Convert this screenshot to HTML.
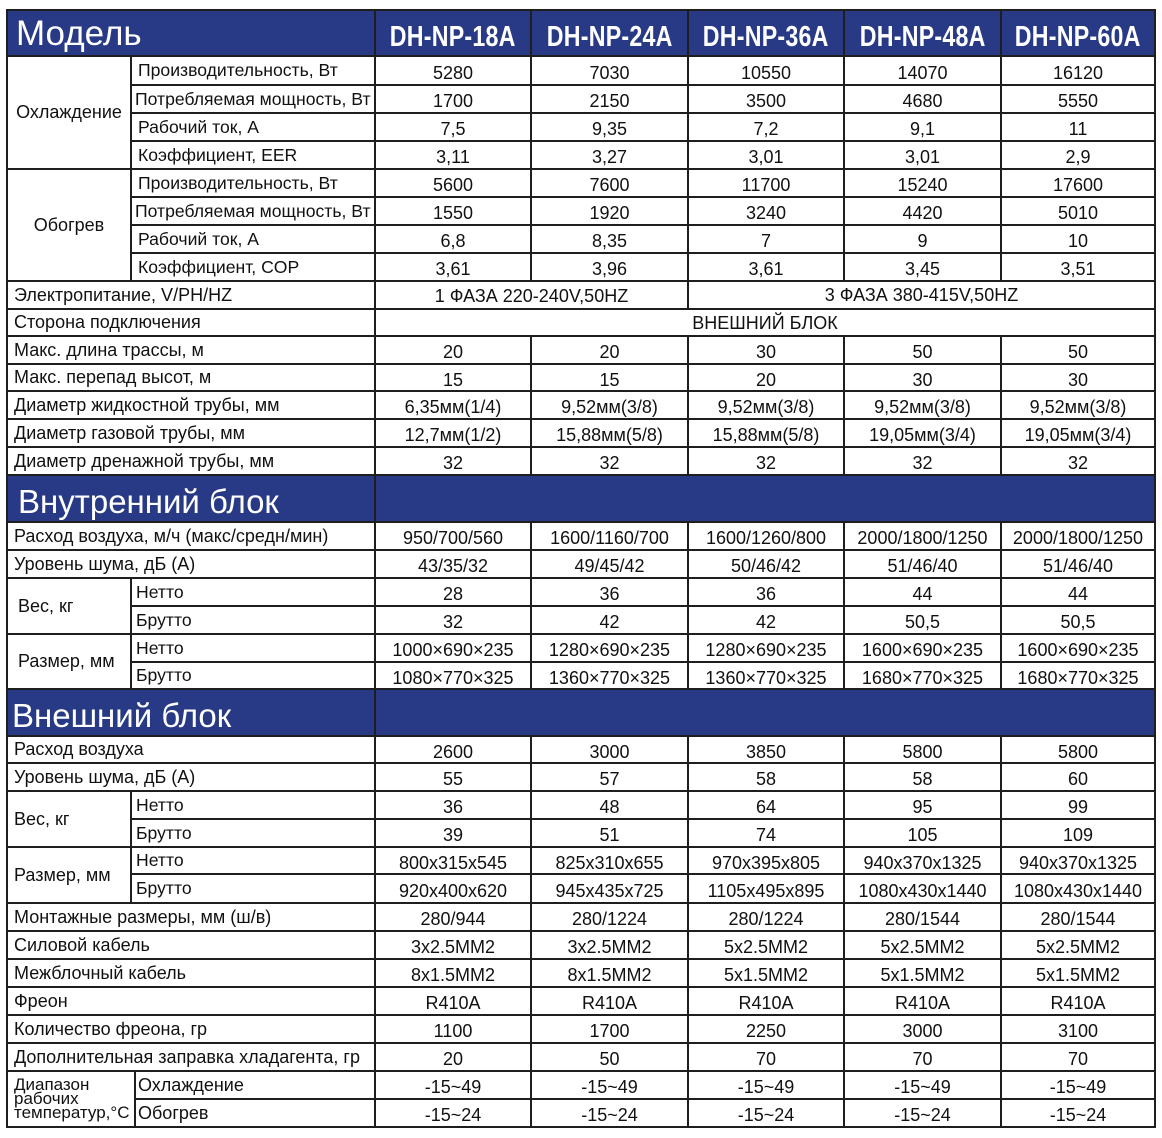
<!DOCTYPE html>
<html><head><meta charset="utf-8">
<style>
*{box-sizing:border-box;margin:0;padding:0}
body{width:1162px;height:1138px;background:#fff;position:relative;overflow:hidden;font-family:"Liberation Sans",sans-serif;color:#111}
#t{position:absolute;left:6px;top:9px;width:1150px;border:2px solid #1e1e1e}
.row{display:flex;width:1146px}
.row+.row{border-top:2px solid #1e1e1e}
.c{height:100%;display:flex;align-items:center;font-size:18px;white-space:nowrap;overflow:hidden}
.c+.c{border-left:2px solid #1e1e1e}
.a{width:122px}.b{width:244px}.ab{width:366px}.b2{width:242px;font-size:17.6px}
.v1{width:156px}.v2{width:157px}.v3{width:156px}.v4{width:157px}.v5{width:154px}
.s12{width:313px}.s345{width:467px}.sall{width:780px}
.v,.v1,.v2,.v3,.v4,.v5,.s12,.s345,.sall{justify-content:center;padding-top:5px}
.l{padding-left:6px}
.ctr{justify-content:center}
.sub{width:1024px;border-left:2px solid #1e1e1e;display:flex;flex-direction:column}
.sub .row{width:1022px}
.g{display:flex}
.blue{background:#283a85;color:#fff}
.mh{padding-top:9px}
.mh span{display:inline-block;font-size:29px;font-weight:bold;transform:scaleX(0.8);letter-spacing:0.3px}
.big{font-size:33px;padding-left:8px}
</style></head><body>
<div id="t">
<div class="row blue" style="height:44px">
 <div class="c ab big" style="font-size:35px;padding-left:8px;padding-top:2px">Модель</div>
 <div class="c v1 mh"><span>DH-NP-18A</span></div><div class="c v2 mh"><span>DH-NP-24A</span></div><div class="c v3 mh"><span>DH-NP-36A</span></div><div class="c v4 mh"><span>DH-NP-48A</span></div><div class="c v5 mh"><span>DH-NP-60A</span></div>
</div>
<div class="row g" style="height:113px">
 <div class="c a ctr">Охлаждение</div>
 <div class="sub">
  <div class="row" style="height:27px"><div class="c b2 l">Производительность, Вт</div><div class="c v1">5280</div><div class="c v2">7030</div><div class="c v3">10550</div><div class="c v4">14070</div><div class="c v5">16120</div></div>
  <div class="row" style="height:28px"><div class="c b2 l" style="padding-left:3px">Потребляемая мощность, Вт</div><div class="c v1">1700</div><div class="c v2">2150</div><div class="c v3">3500</div><div class="c v4">4680</div><div class="c v5">5550</div></div>
  <div class="row" style="height:28px"><div class="c b2 l">Рабочий ток, А</div><div class="c v1">7,5</div><div class="c v2">9,35</div><div class="c v3">7,2</div><div class="c v4">9,1</div><div class="c v5">11</div></div>
  <div class="row" style="height:28px"><div class="c b2 l">Коэффициент, EER</div><div class="c v1">3,11</div><div class="c v2">3,27</div><div class="c v3">3,01</div><div class="c v4">3,01</div><div class="c v5">2,9</div></div>
 </div>
</div>
<div class="row g" style="height:112px">
 <div class="c a ctr">Обогрев</div>
 <div class="sub">
  <div class="row" style="height:26px"><div class="c b2 l">Производительность, Вт</div><div class="c v1">5600</div><div class="c v2">7600</div><div class="c v3">11700</div><div class="c v4">15240</div><div class="c v5">17600</div></div>
  <div class="row" style="height:28px"><div class="c b2 l" style="padding-left:3px">Потребляемая мощность, Вт</div><div class="c v1">1550</div><div class="c v2">1920</div><div class="c v3">3240</div><div class="c v4">4420</div><div class="c v5">5010</div></div>
  <div class="row" style="height:28px"><div class="c b2 l">Рабочий ток, А</div><div class="c v1">6,8</div><div class="c v2">8,35</div><div class="c v3">7</div><div class="c v4">9</div><div class="c v5">10</div></div>
  <div class="row" style="height:28px"><div class="c b2 l">Коэффициент, COP</div><div class="c v1">3,61</div><div class="c v2">3,96</div><div class="c v3">3,61</div><div class="c v4">3,45</div><div class="c v5">3,51</div></div>
 </div>
</div>
<div class="row" style="height:28px"><div class="c ab l">Электропитание, V/PH/HZ</div><div class="c s12" style="padding-top:2px">1 ФАЗА 220-240V,50HZ</div><div class="c s345" style="padding-top:0">3 ФАЗА 380-415V,50HZ</div></div>
<div class="row" style="height:27px"><div class="c ab l">Сторона подключения</div><div class="c sall" style="padding-top:2px">ВНЕШНИЙ БЛОК</div></div>
<div class="row" style="height:28px"><div class="c ab l">Макс. длина трассы, м</div><div class="c v1">20</div><div class="c v2">20</div><div class="c v3">30</div><div class="c v4">50</div><div class="c v5">50</div></div>
<div class="row" style="height:27px"><div class="c ab l">Макс. перепад высот, м</div><div class="c v1">15</div><div class="c v2">15</div><div class="c v3">20</div><div class="c v4">30</div><div class="c v5">30</div></div>
<div class="row" style="height:28px"><div class="c ab l">Диаметр жидкостной трубы, мм</div><div class="c v1">6,35мм(1/4)</div><div class="c v2">9,52мм(3/8)</div><div class="c v3">9,52мм(3/8)</div><div class="c v4">9,52мм(3/8)</div><div class="c v5">9,52мм(3/8)</div></div>
<div class="row" style="height:28px"><div class="c ab l">Диаметр газовой трубы, мм</div><div class="c v1">12,7мм(1/2)</div><div class="c v2">15,88мм(5/8)</div><div class="c v3">15,88мм(5/8)</div><div class="c v4">19,05мм(3/4)</div><div class="c v5">19,05мм(3/4)</div></div>
<div class="row" style="height:28px"><div class="c ab l">Диаметр дренажной трубы, мм</div><div class="c v1">32</div><div class="c v2">32</div><div class="c v3">32</div><div class="c v4">32</div><div class="c v5">32</div></div>
<div class="row blue" style="height:47px"><div class="c ab big" style="padding-left:10px;padding-top:6px">Внутренний блок</div><div class="c sall"></div></div>
<div class="row" style="height:28px"><div class="c ab l">Расход воздуха, м/ч (макс/средн/мин)</div><div class="c v1">950/700/560</div><div class="c v2">1600/1160/700</div><div class="c v3">1600/1260/800</div><div class="c v4">2000/1800/1250</div><div class="c v5">2000/1800/1250</div></div>
<div class="row" style="height:28px"><div class="c ab l">Уровень шума, дБ (А)</div><div class="c v1">43/35/32</div><div class="c v2">49/45/42</div><div class="c v3">50/46/42</div><div class="c v4">51/46/40</div><div class="c v5">51/46/40</div></div>
<div class="row g" style="height:56px">
 <div class="c a l" style="padding-left:10px">Вес, кг</div>
 <div class="sub">
  <div class="row" style="height:26px"><div class="c b2 l" style="padding-left:4px">Нетто</div><div class="c v1">28</div><div class="c v2">36</div><div class="c v3">36</div><div class="c v4">44</div><div class="c v5">44</div></div>
  <div class="row" style="height:28px"><div class="c b2 l" style="padding-left:4px">Брутто</div><div class="c v1">32</div><div class="c v2">42</div><div class="c v3">42</div><div class="c v4">50,5</div><div class="c v5">50,5</div></div>
 </div>
</div>
<div class="row g" style="height:55px">
 <div class="c a l" style="padding-left:10px">Размер, мм</div>
 <div class="sub">
  <div class="row" style="height:26px"><div class="c b2 l" style="padding-left:4px">Нетто</div><div class="c v1">1000×690×235</div><div class="c v2">1280×690×235</div><div class="c v3">1280×690×235</div><div class="c v4">1600×690×235</div><div class="c v5">1600×690×235</div></div>
  <div class="row" style="height:27px"><div class="c b2 l" style="padding-left:4px">Брутто</div><div class="c v1">1080×770×325</div><div class="c v2">1360×770×325</div><div class="c v3">1360×770×325</div><div class="c v4">1680×770×325</div><div class="c v5">1680×770×325</div></div>
 </div>
</div>
<div class="row blue" style="height:47px"><div class="c ab big" style="padding-left:4px;padding-top:6px">Внешний блок</div><div class="c sall"></div></div>
<div class="row" style="height:27px"><div class="c ab l">Расход воздуха</div><div class="c v1">2600</div><div class="c v2">3000</div><div class="c v3">3850</div><div class="c v4">5800</div><div class="c v5">5800</div></div>
<div class="row" style="height:28px"><div class="c ab l">Уровень шума, дБ (А)</div><div class="c v1">55</div><div class="c v2">57</div><div class="c v3">58</div><div class="c v4">58</div><div class="c v5">60</div></div>
<div class="row g" style="height:56px">
 <div class="c a l">Вес, кг</div>
 <div class="sub">
  <div class="row" style="height:26px"><div class="c b2 l" style="padding-left:4px">Нетто</div><div class="c v1">36</div><div class="c v2">48</div><div class="c v3">64</div><div class="c v4">95</div><div class="c v5">99</div></div>
  <div class="row" style="height:28px"><div class="c b2 l" style="padding-left:4px">Брутто</div><div class="c v1">39</div><div class="c v2">51</div><div class="c v3">74</div><div class="c v4">105</div><div class="c v5">109</div></div>
 </div>
</div>
<div class="row g" style="height:56px">
 <div class="c a l">Размер, мм</div>
 <div class="sub">
  <div class="row" style="height:25px"><div class="c b2 l" style="padding-left:4px">Нетто</div><div class="c v1">800x315x545</div><div class="c v2">825x310x655</div><div class="c v3">970x395x805</div><div class="c v4">940x370x1325</div><div class="c v5">940x370x1325</div></div>
  <div class="row" style="height:29px"><div class="c b2 l" style="padding-left:4px">Брутто</div><div class="c v1">920x400x620</div><div class="c v2">945x435x725</div><div class="c v3">1105x495x895</div><div class="c v4">1080x430x1440</div><div class="c v5">1080x430x1440</div></div>
 </div>
</div>
<div class="row" style="height:28px"><div class="c ab l">Монтажные размеры, мм (ш/в)</div><div class="c v1">280/944</div><div class="c v2">280/1224</div><div class="c v3">280/1224</div><div class="c v4">280/1544</div><div class="c v5">280/1544</div></div>
<div class="row" style="height:28px"><div class="c ab l">Силовой кабель</div><div class="c v1">3x2.5MM2</div><div class="c v2">3x2.5MM2</div><div class="c v3">5x2.5MM2</div><div class="c v4">5x2.5MM2</div><div class="c v5">5x2.5MM2</div></div>
<div class="row" style="height:28px"><div class="c ab l">Межблочный кабель</div><div class="c v1">8x1.5MM2</div><div class="c v2">8x1.5MM2</div><div class="c v3">5x1.5MM2</div><div class="c v4">5x1.5MM2</div><div class="c v5">5x1.5MM2</div></div>
<div class="row" style="height:28px"><div class="c ab l">Фреон</div><div class="c v1">R410A</div><div class="c v2">R410A</div><div class="c v3">R410A</div><div class="c v4">R410A</div><div class="c v5">R410A</div></div>
<div class="row" style="height:28px"><div class="c ab l">Количество фреона, гр</div><div class="c v1">1100</div><div class="c v2">1700</div><div class="c v3">2250</div><div class="c v4">3000</div><div class="c v5">3100</div></div>
<div class="row" style="height:28px"><div class="c ab l">Дополнительная заправка хладагента, гр</div><div class="c v1">20</div><div class="c v2">50</div><div class="c v3">70</div><div class="c v4">70</div><div class="c v5">70</div></div>
<div class="row g" style="height:56px">
 <div class="c l" style="width:126px;line-height:14px;white-space:normal;font-size:17px;padding-left:6px">Диапазон рабочих температур,°С</div>
 <div class="sub" style="width:1020px">
  <div class="row" style="height:26px;width:1018px"><div class="c l" style="width:238px;padding-left:2px">Охлаждение</div><div class="c v1">-15~49</div><div class="c v2">-15~49</div><div class="c v3">-15~49</div><div class="c v4">-15~49</div><div class="c v5">-15~49</div></div>
  <div class="row" style="height:28px;width:1018px"><div class="c l" style="width:238px;padding-left:2px">Обогрев</div><div class="c v1">-15~24</div><div class="c v2">-15~24</div><div class="c v3">-15~24</div><div class="c v4">-15~24</div><div class="c v5">-15~24</div></div>
 </div>
</div>
</div>
</body></html>
